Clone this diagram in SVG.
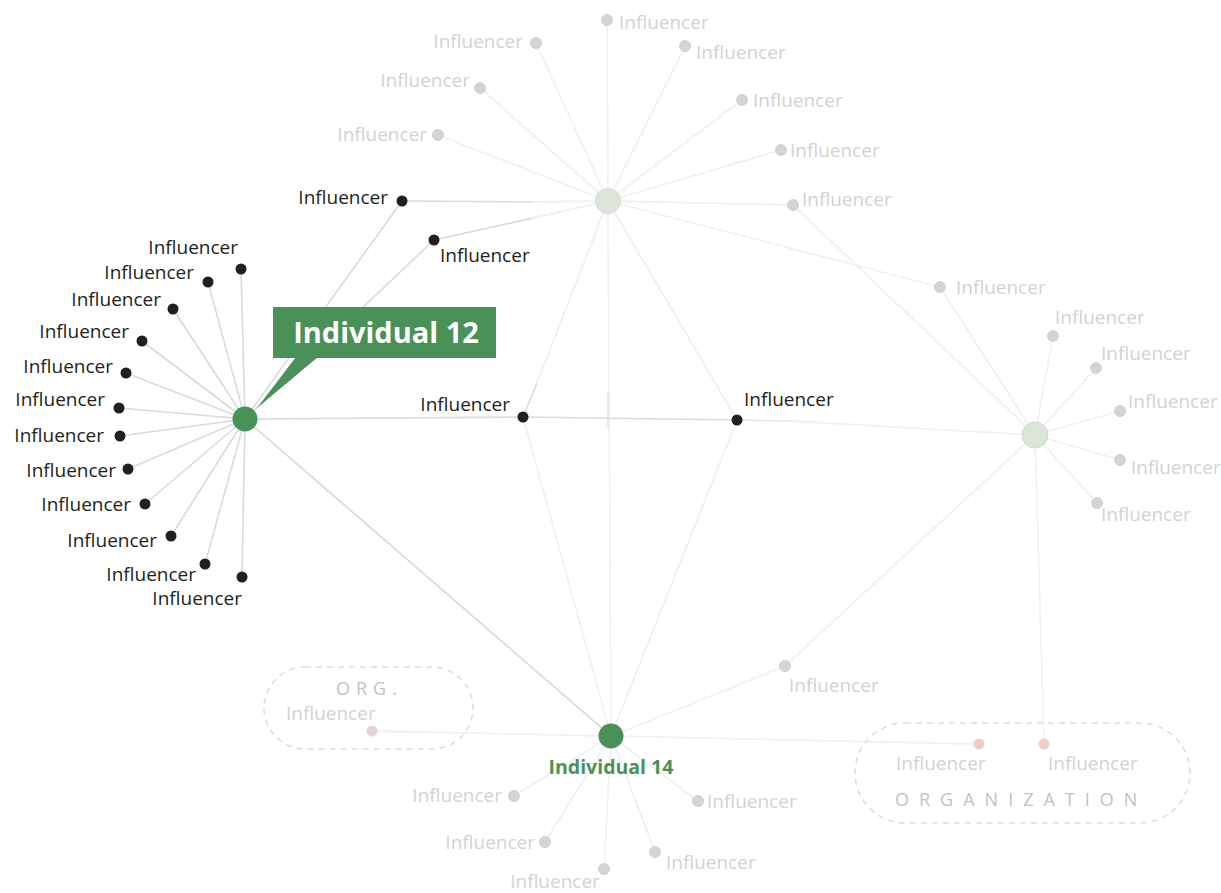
<svg xmlns="http://www.w3.org/2000/svg" width="1221" height="893" viewBox="0 0 1221 893">
<style>
text{font-family:"Open Sans","Noto Sans","Liberation Sans",sans-serif;font-size:19px}
.ld{fill:#231f20}
.lg{fill:#d2d2d4}
.dd{fill:#231f20}
.dg{fill:#d3d4d6;stroke:#c9cacc;stroke-width:0.8}
.ed{stroke:#dadada;stroke-width:1.6;fill:none}
.ef{stroke:#f1f1f1;stroke-width:1.8;fill:none}
.hub{fill:#dbe6d8;stroke:#d0ddcd;stroke-width:1}
.grn{fill:#4a9157}
.org{fill:none;stroke-width:1.6;stroke-dasharray:6 5}
.cap{fill:#c3bfc2;font-size:18px}
</style>
<rect width="1221" height="893" fill="#ffffff"/>
<g id="connectors">
  <line class="ef" x1="608" y1="201" x2="607" y2="20"/>
  <line class="ef" x1="608" y1="201" x2="536" y2="43"/>
  <line class="ef" x1="608" y1="201" x2="685" y2="46"/>
  <line class="ef" x1="608" y1="201" x2="480" y2="88"/>
  <line class="ef" x1="608" y1="201" x2="742" y2="100"/>
  <line class="ef" x1="608" y1="201" x2="438" y2="135"/>
  <line class="ef" x1="608" y1="201" x2="781" y2="150"/>
  <line class="ef" x1="608" y1="201" x2="793" y2="205"/>
  <line class="ef" x1="608" y1="201" x2="940" y2="287"/>
  <line class="ef" x1="533" y1="202" x2="608" y2="201"/>
  <line class="ef" x1="533" y1="218" x2="608" y2="201"/>
  <line class="ef" x1="537" y1="383" x2="608" y2="201"/>
  <line class="ef" x1="737" y1="420" x2="608" y2="201"/>
  <line class="ef" x1="608" y1="201" x2="611" y2="736"/>
  <line class="ef" x1="523" y1="417" x2="611" y2="736"/>
  <line class="ef" x1="737" y1="420" x2="611" y2="736"/>
  <line class="ef" x1="790" y1="421" x2="1035" y2="435"/>
  <line class="ef" x1="940" y1="287" x2="1035" y2="435"/>
  <line class="ef" x1="793" y1="205" x2="1035" y2="435"/>
  <line class="ef" x1="1035" y1="435" x2="1053" y2="336"/>
  <line class="ef" x1="1035" y1="435" x2="1096" y2="368"/>
  <line class="ef" x1="1035" y1="435" x2="1120" y2="411"/>
  <line class="ef" x1="1035" y1="435" x2="1120" y2="460"/>
  <line class="ef" x1="1035" y1="435" x2="1097" y2="503"/>
  <line class="ef" x1="1035" y1="435" x2="785" y2="666"/>
  <line class="ef" x1="785" y1="666" x2="611" y2="736"/>
  <line class="ef" x1="1035" y1="435" x2="1044" y2="744"/>
  <line class="ef" x1="611" y1="736" x2="979" y2="744"/>
  <line class="ef" x1="611" y1="736" x2="372" y2="731"/>
  <line class="ef" x1="611" y1="736" x2="514" y2="796"/>
  <line class="ef" x1="611" y1="736" x2="545" y2="842"/>
  <line class="ef" x1="611" y1="736" x2="604" y2="869"/>
  <line class="ef" x1="611" y1="736" x2="655" y2="852"/>
  <line class="ef" x1="611" y1="736" x2="698" y2="801"/>
  <line class="ed" x1="245" y1="419" x2="241" y2="269"/>
  <line class="ed" x1="245" y1="419" x2="208" y2="282"/>
  <line class="ed" x1="245" y1="419" x2="173" y2="309"/>
  <line class="ed" x1="245" y1="419" x2="142" y2="341"/>
  <line class="ed" x1="245" y1="419" x2="126" y2="373"/>
  <line class="ed" x1="245" y1="419" x2="119" y2="408"/>
  <line class="ed" x1="245" y1="419" x2="120" y2="436"/>
  <line class="ed" x1="245" y1="419" x2="128" y2="469"/>
  <line class="ed" x1="245" y1="419" x2="145" y2="504"/>
  <line class="ed" x1="245" y1="419" x2="171" y2="536"/>
  <line class="ed" x1="245" y1="419" x2="205" y2="564"/>
  <line class="ed" x1="245" y1="419" x2="242" y2="577"/>
  <line class="ed" x1="245" y1="419" x2="402" y2="201"/>
  <line class="ed" x1="245" y1="419" x2="434" y2="240"/>
  <line class="ed" x1="402" y1="201" x2="533" y2="202"/>
  <line class="ed" x1="434" y1="240" x2="533" y2="218"/>
  <line class="ed" x1="523" y1="417" x2="537" y2="383"/>
  <line class="ed" x1="245" y1="419" x2="523" y2="417"/>
  <line class="ed" x1="523" y1="417" x2="737" y2="420"/>
  <line class="ed" x1="608" y1="392" x2="608" y2="427" style="stroke:#e4e4e4"/>
  <line x1="737" y1="420" x2="790" y2="421" style="stroke:#e6e6e6;stroke-width:1.6"/>
  <line class="ed" x1="245" y1="419" x2="611" y2="736" style="stroke:#d6d6d6"/>
</g>
<g id="org-small">
  <rect class="org" x="264" y="667" width="209" height="82" rx="41" style="stroke:#e3dbe0"/>
  <text class="cap" x="336" y="695" style="letter-spacing:6px">ORG.</text>
</g>
<g id="organization">
  <rect class="org" x="855" y="723" width="335" height="100" rx="50" style="stroke:#f1d6d1"/>
  <text class="cap" x="895" y="806" style="letter-spacing:10px">ORGANIZATION</text>
</g>
<g id="hub-top"><circle class="hub" cx="608" cy="201" r="12.5"/></g>
<g id="hub-right"><circle class="hub" cx="1035" cy="435" r="13"/></g>
<g id="individual-12">
  <circle class="grn" cx="245" cy="419" r="12.5"/>
  <rect class="grn" x="273" y="307" width="223" height="51"/>
  <polygon class="grn" points="296,357 318,357 257,408"/>
  <text x="386" y="343" text-anchor="middle" style="fill:#ffffff;font-size:29px;font-weight:700">Individual 12</text>
</g>
<g id="individual-14">
  <circle class="grn" cx="611" cy="736" r="12.5"/>
  <text x="611" y="774" text-anchor="middle" style="fill:#4a9157;font-size:19.5px;font-weight:700">Individual 14</text>
</g>
<g id="l1"><circle class="dd" cx="241" cy="269" r="5.5"/><text class="ld" x="238" y="254" text-anchor="end">Influencer</text></g>
<g id="l2"><circle class="dd" cx="208" cy="282" r="5.5"/><text class="ld" x="194" y="279" text-anchor="end">Influencer</text></g>
<g id="l3"><circle class="dd" cx="173" cy="309" r="5.5"/><text class="ld" x="161" y="306" text-anchor="end">Influencer</text></g>
<g id="l4"><circle class="dd" cx="142" cy="341" r="5.5"/><text class="ld" x="129" y="338" text-anchor="end">Influencer</text></g>
<g id="l5"><circle class="dd" cx="126" cy="373" r="5.5"/><text class="ld" x="113" y="373" text-anchor="end">Influencer</text></g>
<g id="l6"><circle class="dd" cx="119" cy="408" r="5.5"/><text class="ld" x="105" y="406" text-anchor="end">Influencer</text></g>
<g id="l7"><circle class="dd" cx="120" cy="436" r="5.5"/><text class="ld" x="104" y="442" text-anchor="end">Influencer</text></g>
<g id="l8"><circle class="dd" cx="128" cy="469" r="5.5"/><text class="ld" x="116" y="477" text-anchor="end">Influencer</text></g>
<g id="l9"><circle class="dd" cx="145" cy="504" r="5.5"/><text class="ld" x="131" y="511" text-anchor="end">Influencer</text></g>
<g id="l10"><circle class="dd" cx="171" cy="536" r="5.5"/><text class="ld" x="157" y="547" text-anchor="end">Influencer</text></g>
<g id="l11"><circle class="dd" cx="205" cy="564" r="5.5"/><text class="ld" x="196" y="581" text-anchor="end">Influencer</text></g>
<g id="l12"><circle class="dd" cx="242" cy="577" r="5.5"/><text class="ld" x="242" y="605" text-anchor="end">Influencer</text></g>
<g id="m1"><circle class="dd" cx="402" cy="201" r="5.5"/><text class="ld" x="388" y="204" text-anchor="end">Influencer</text></g>
<g id="m2"><circle class="dd" cx="434" cy="240" r="5.5"/><text class="ld" x="440" y="262">Influencer</text></g>
<g id="m3"><circle class="dd" cx="523" cy="417" r="5.5"/><text class="ld" x="510" y="411" text-anchor="end">Influencer</text></g>
<g id="m4"><circle class="dd" cx="737" cy="420" r="5.5"/><text class="ld" x="744" y="406">Influencer</text></g>
<g id="t1"><circle class="dg" cx="607" cy="20" r="5.5"/><text class="lg" x="619" y="29">Influencer</text></g>
<g id="t2"><circle class="dg" cx="536" cy="43" r="5.5"/><text class="lg" x="523" y="48" text-anchor="end">Influencer</text></g>
<g id="t3"><circle class="dg" cx="685" cy="46" r="5.5"/><text class="lg" x="696" y="59">Influencer</text></g>
<g id="t4"><circle class="dg" cx="480" cy="88" r="5.5"/><text class="lg" x="470" y="87" text-anchor="end">Influencer</text></g>
<g id="t5"><circle class="dg" cx="742" cy="100" r="5.5"/><text class="lg" x="753" y="107">Influencer</text></g>
<g id="t6"><circle class="dg" cx="438" cy="135" r="5.5"/><text class="lg" x="427" y="141" text-anchor="end">Influencer</text></g>
<g id="t7"><circle class="dg" cx="781" cy="150" r="5.5"/><text class="lg" x="790" y="157">Influencer</text></g>
<g id="t8"><circle class="dg" cx="793" cy="205" r="5.5"/><text class="lg" x="802" y="206">Influencer</text></g>
<g id="r1"><circle class="dg" cx="940" cy="287" r="5.5"/><text class="lg" x="956" y="294">Influencer</text></g>
<g id="r2"><circle class="dg" cx="1053" cy="336" r="5.5"/><text class="lg" x="1055" y="324">Influencer</text></g>
<g id="r3"><circle class="dg" cx="1096" cy="368" r="5.5"/><text class="lg" x="1101" y="360">Influencer</text></g>
<g id="r4"><circle class="dg" cx="1120" cy="411" r="5.5"/><text class="lg" x="1128" y="408">Influencer</text></g>
<g id="r5"><circle class="dg" cx="1120" cy="460" r="5.5"/><text class="lg" x="1131" y="474">Influencer</text></g>
<g id="r6"><circle class="dg" cx="1097" cy="503" r="5.5"/><text class="lg" x="1101" y="521">Influencer</text></g>
<g id="r7"><circle class="dg" cx="785" cy="666" r="5.5"/><text class="lg" x="789" y="692">Influencer</text></g>
<g id="b1"><circle class="dg" cx="514" cy="796" r="5.5"/><text class="lg" x="502" y="802" text-anchor="end">Influencer</text></g>
<g id="b2"><circle class="dg" cx="545" cy="842" r="5.5"/><text class="lg" x="535" y="849" text-anchor="end">Influencer</text></g>
<g id="b3"><circle class="dg" cx="604" cy="869" r="5.5"/><text class="lg" x="555" y="888" text-anchor="middle">Influencer</text></g>
<g id="b4"><circle class="dg" cx="655" cy="852" r="5.5"/><text class="lg" x="666" y="869">Influencer</text></g>
<g id="b5"><circle class="dg" cx="698" cy="801" r="5.5"/><text class="lg" x="707" y="808">Influencer</text></g>
<g id="o1"><circle cx="372" cy="731" r="5.5" fill="#e2d3de"/><text class="lg" x="286" y="720">Influencer</text></g>
<g id="o2"><circle cx="979" cy="744" r="5.5" fill="#f0cdc6"/><text class="lg" x="896" y="770">Influencer</text></g>
<g id="o3"><circle cx="1044" cy="744" r="5.5" fill="#f0cdc6"/><text class="lg" x="1048" y="770">Influencer</text></g>
</svg>
